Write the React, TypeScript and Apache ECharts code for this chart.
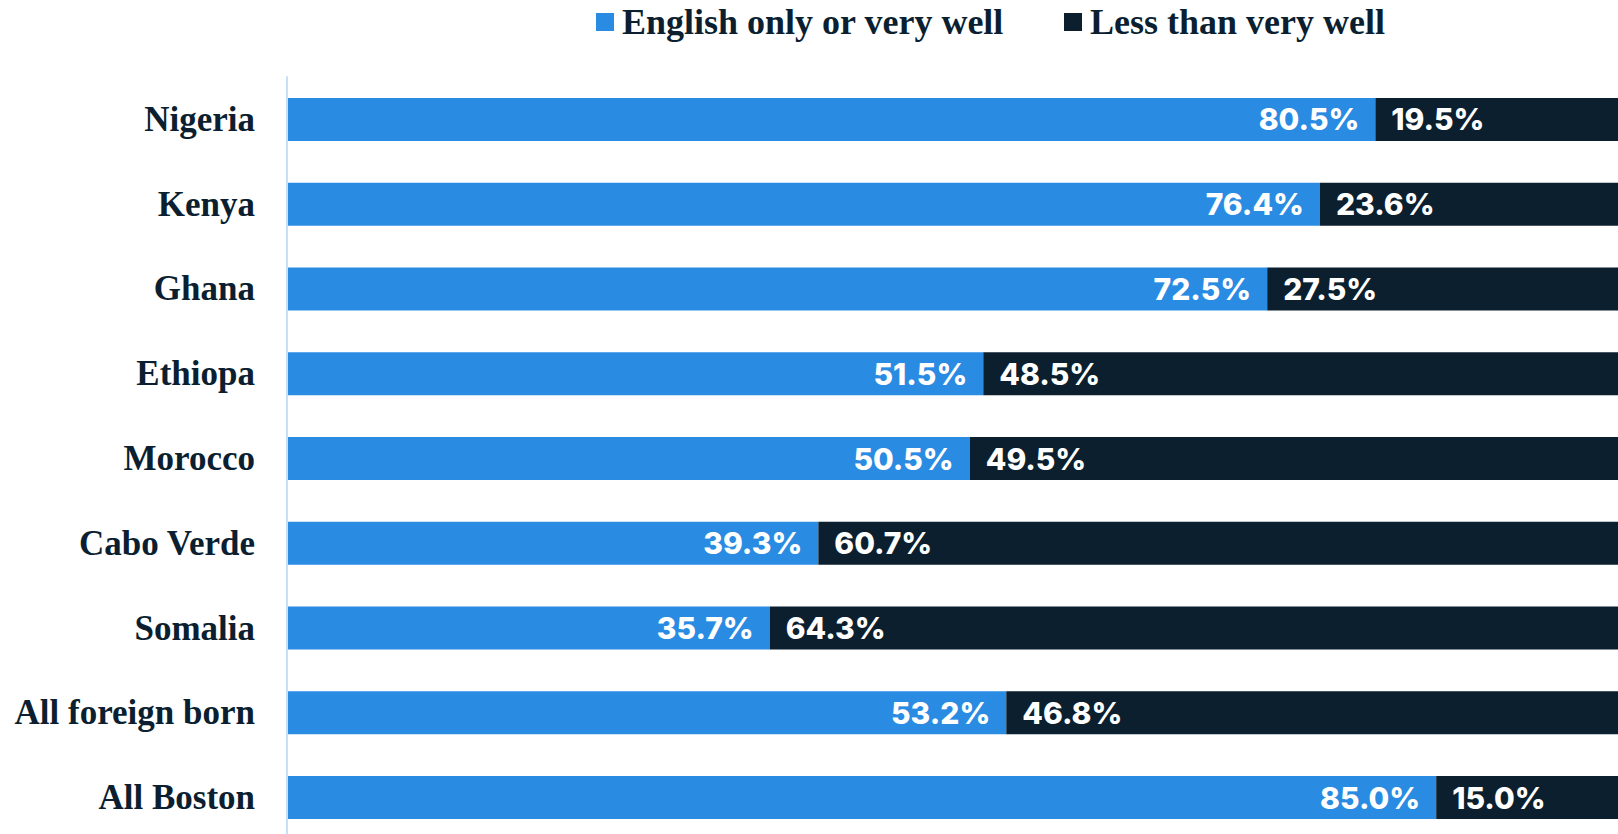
import React, { useEffect, useRef } from "react";
import * as echarts from "echarts";

const categories = [
  "Nigeria",
  "Kenya",
  "Ghana",
  "Ethiopa",
  "Morocco",
  "Cabo Verde",
  "Somalia",
  "All foreign born",
  "All Boston",
];
const englishWell = [80.5, 76.4, 72.5, 51.5, 50.5, 39.3, 35.7, 53.2, 85.0];
const lessThanWell = [19.5, 23.6, 27.5, 48.5, 49.5, 60.7, 64.3, 46.8, 15.0];
const seriesNames = ["English only or very well", "Less than very well"];

const BLUE = "#2a8be2";
const DARK = "#0b1f2f";

export default function App() {
  const ref = useRef<HTMLDivElement>(null);
  useEffect(() => {
    document.body.style.margin = "0";
    if (!ref.current) return;
    const chart = echarts.init(ref.current, null, { renderer: "svg" });
    const labelStyle = {
      show: true,
      color: "#ffffff",
      fontFamily: "Inter",
      fontWeight: 800,
      fontSize: 30,
      distance: 16,
      formatter: (p: any) => Number(p.value).toFixed(1) + "%",
    };
    chart.setOption({
      animation: false,
      legend: {
        left: 596,
        top: 4,
        padding: 0,
        icon: "rect",
        itemWidth: 18,
        itemHeight: 18,
        itemGap: 60,
        textStyle: {
          fontFamily: "Liberation Serif",
          fontWeight: "bold",
          fontSize: 36,
          color: "#0b1f30",
          padding: [0, 0, 0, 3],
        },
        data: seriesNames,
      },
      grid: { left: 287, right: 0, top: 77, bottom: 0, containLabel: false },
      xAxis: {
        type: "value",
        min: 0,
        max: 100,
        show: false,
      },
      yAxis: {
        type: "category",
        data: categories,
        inverse: true,
        axisLine: { show: true, lineStyle: { color: "#c6e0f7", width: 2 } },
        axisTick: { show: false },
        axisLabel: {
          margin: 32,
          fontFamily: "Liberation Serif",
          fontWeight: "bold",
          fontSize: 35,
          color: "#0b1f30",
          padding: [0, 0, 5, 0],
        },
        z: 10,
      },
      series: [
        {
          name: seriesNames[0],
          type: "bar",
          stack: "total",
          barWidth: 43,
          data: englishWell,
          itemStyle: { color: BLUE },
          label: { ...labelStyle, position: "insideRight" },
        },
        {
          name: seriesNames[1],
          type: "bar",
          stack: "total",
          barWidth: 43,
          data: lessThanWell,
          itemStyle: { color: DARK },
          label: { ...labelStyle, position: "insideLeft" },
        },
      ],
    });
    return () => chart.dispose();
  }, []);
  return (
    <div style={{ width: 1618, height: 834, overflow: "hidden", position: "relative" }}>
      <div ref={ref} style={{ width: 1639, height: 840 }} />
    </div>
  );
}
